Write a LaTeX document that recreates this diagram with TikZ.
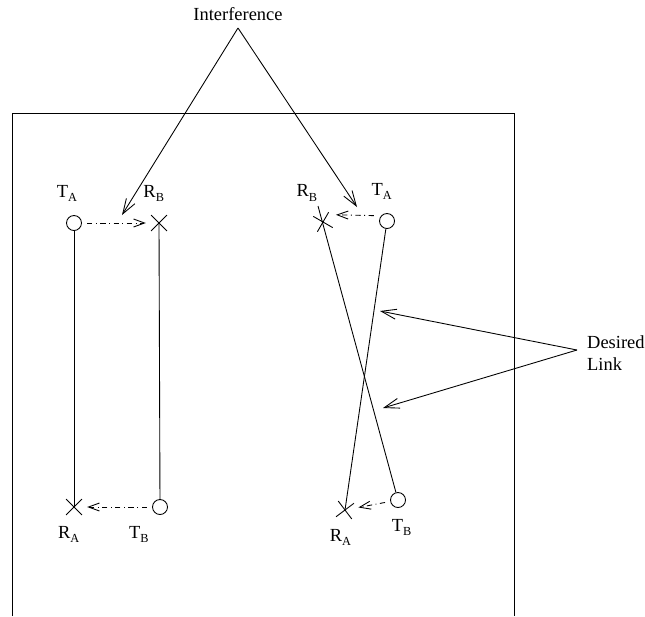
\documentclass[tikz,border=0pt]{standalone}
\usepackage{fontspec}
\setmainfont{Liberation Serif}
\usetikzlibrary{shapes.misc, arrows.meta, positioning}

\newcommand{\ant}[2]{#1\raisebox{-0.5ex}{\scriptsize #2}}

\begin{document}
\begin{tikzpicture}[
        x=0.02cm, y=-0.02cm,
        font=\fontsize{10.5}{12.5}\selectfont,
        tx/.style={draw, circle, minimum size=15*0.02cm, inner sep=0pt, line width=0.5pt},
        rx/.style={draw, cross out, minimum size=15*0.02cm, inner sep=0pt, line width=0.5pt},
        link/.style={line width=0.5pt},
        intf/.style={-{Straight Barb[length=2.2mm, width=1.6mm]}, line width=0.5pt, dash dot},
        pointer/.style={-{Straight Barb[length=3mm, width=2mm]}, line width=0.5pt}
    ]
        \useasboundingbox (0,0) rectangle (645,616);
        % area
        \draw[line width=0.5pt] (12,616) |- (514,113) -- (514,616);

        % 1. left pair (parallel links)
        \node[tx] (ta1) at (74,223) {};
        \node[rx] (rb1) at (159,223) {};
        \node[rx] (ra1) at (74,507) {};
        \node[tx] (tb1) at (160,507) {};
        \node[above=4pt of ta1, xshift=-4pt] {\ant{T}{A}};
        \node[above=4pt of rb1, xshift=-3pt] {\ant{R}{B}};
        \node[below=3pt of ra1, xshift=-3pt] {\ant{R}{A}};
        \node[below=3pt of tb1, xshift=-12pt] {\ant{T}{B}};
        \draw[link] (ta1) -- (ra1.center);
        \draw[link] (rb1.center) -- (tb1);
        \draw[intf, shorten <=3pt, shorten >=3pt] (ta1) -- (rb1);
        \draw[intf, shorten <=3pt, shorten >=3pt] (tb1) -- (ra1);

        % 2. right pair (crossing links)
        \node[rx, rotate=15] (rb2) at (323,222) {};
        \node[tx] (ta2) at (387,221) {};
        \node[rx, rotate=-8] (ra2) at (345,510) {};
        \node[tx] (tb2) at (398,500) {};
        \node[above=4pt of rb2, xshift=-8pt] {\ant{R}{B}};
        \node[above=4pt of ta2, xshift=-3pt] {\ant{T}{A}};
        \node[below=3pt of ra2, xshift=-2pt] {\ant{R}{A}};
        \node[below=3pt of tb2, xshift=2pt] {\ant{T}{B}};
        \coordinate (rbtop) at (318,206);
        \draw[link] (rbtop) -- (tb2);
        \draw[link] (ta2) -- (ra2.center);
        \draw[intf, shorten <=3pt, shorten >=3pt] ([yshift=3pt]ta2.west) -- ([yshift=3pt]rb2.east);
        \draw[intf, shorten <=3pt, shorten >=3pt] (tb2) -- (ra2);

        % labels with pointers
        \node (interf) at (238,14) {Interference};
        \coordinate (apex) at (238,28);
        \coordinate (hit1) at (122,215);
        \coordinate (hit2) at (357,207);
        \draw[pointer] (apex) -- (hit1);
        \draw[pointer] (apex) -- (hit2);

        \node[align=left, anchor=west] (desired) at (581,353) {Desired\\Link};
        \coordinate (src) at (577,350);
        \coordinate (want1) at (380,311);
        \coordinate (want2) at (383,408);
        \draw[pointer] (src) -- (want1);
        \draw[pointer] (src) -- (want2);
\end{tikzpicture}
\end{document}
